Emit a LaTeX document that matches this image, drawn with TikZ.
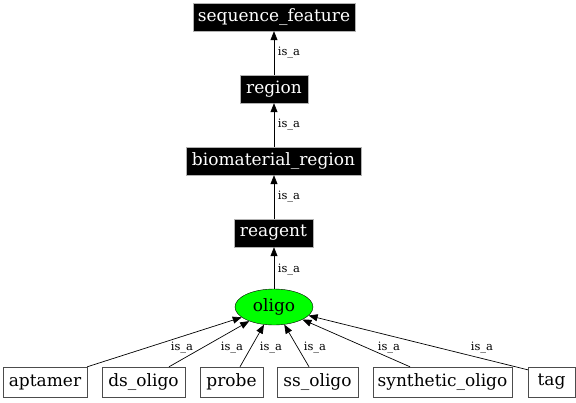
\documentclass[tikz,border=0pt]{standalone}
\usepackage{fontspec}
\setmainfont{DejaVu Serif}
\usetikzlibrary{arrows.meta,shapes.geometric}
\begin{document}
\begin{tikzpicture}[x=1pt,y=-1pt,
  blackbox/.style={draw=gray!60,fill=black,text=white,inner sep=0pt,minimum height=28pt,font=\fontsize{17}{19}\selectfont},
  whitebox/.style={draw=black!70,fill=white,text=black,inner sep=0pt,minimum height=30pt,font=\fontsize{17}{19}\selectfont},
  isa/.style={draw=black,line width=0.7pt,-{Triangle[length=9pt,width=7pt]}},
  lbl/.style={font=\fontsize{11.5}{13}\selectfont,inner sep=0pt}]
\useasboundingbox (0,0) rectangle (576,402);
\node[blackbox,minimum width=162pt] (sf) at (274,17) {sequence\_feature};
\node[blackbox,minimum width=68pt] (region) at (274,89) {region};
\node[blackbox,minimum width=175pt] (bio) at (273.5,161) {biomaterial\_region};
\node[blackbox,minimum width=79pt] (reagent) at (273.5,233) {reagent};
\node[ellipse,draw=black,fill=green,inner sep=0pt,minimum width=78pt,minimum height=36pt,font=\fontsize{17}{19}\selectfont] (oligo) at (274,307) {oligo};
\node[whitebox,minimum width=84pt] (aptamer) at (45,382) {aptamer};
\node[whitebox,minimum width=83pt] (ds) at (143.5,382) {ds\_oligo};
\node[whitebox,minimum width=63pt] (probe) at (231.5,382) {probe};
\node[whitebox,minimum width=81pt] (ss) at (317.5,382) {ss\_oligo};
\node[whitebox,minimum width=139pt] (syn) at (442.5,382) {synthetic\_oligo};
\node[whitebox,minimum width=47pt] (tag) at (551.5,382) {tag};
\draw[isa] (region.north) -- (sf.south) node[lbl] at (289,53) {is\_a};
\draw[isa] (bio.north -| region.north) -- (region.south) node[lbl] at (289,125) {is\_a};
\draw[isa] (reagent.north -| region.north) -- (bio.south -| region.north) node[lbl] at (289,197) {is\_a};
\draw[isa] (oligo.north) -- (reagent.south -| oligo.north) node[lbl] at (289,270) {is\_a};
\draw[isa] (aptamer.north east) -- (oligo) node[lbl] at (182,348) {is\_a};
\draw[isa] ([xshift=25.5pt]ds.north) -- (oligo) node[lbl] at (232,348) {is\_a};
\draw[isa] ([xshift=8.5pt]probe.north) -- (oligo) node[lbl] at (271,348) {is\_a};
\draw[isa] ([xshift=-8.5pt]ss.north) -- (oligo) node[lbl] at (315,348) {is\_a};
\draw[isa] ([xshift=-32.5pt]syn.north) -- (oligo) node[lbl] at (389,348) {is\_a};
\draw[isa] ([yshift=-3pt]tag.north west) -- (oligo) node[lbl] at (482,348) {is\_a};
\end{tikzpicture}
\end{document}
